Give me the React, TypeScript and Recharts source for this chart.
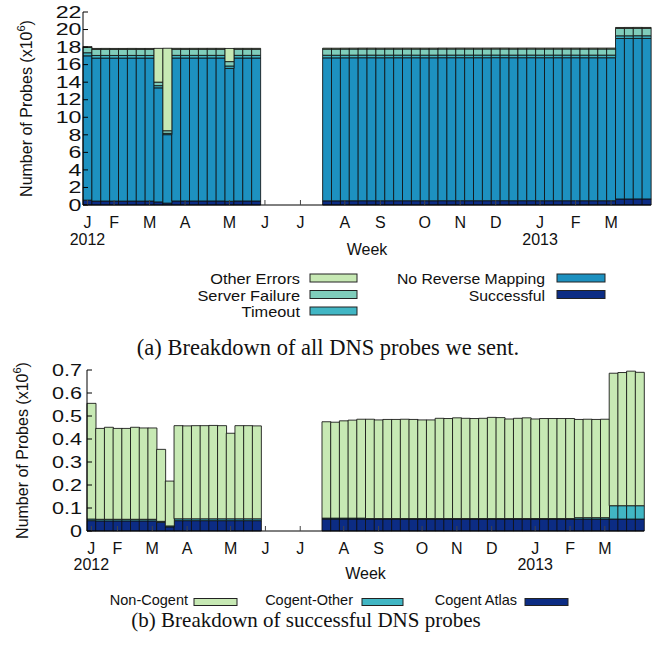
import React from "react";
import { Bar, BarChart, Label, XAxis, YAxis } from "recharts";

// week index 0 = first week of Jan 2012, 63 = last week of Mar 2013
const weeks = Array.from({ length: 64 }, (_, i) => i);

const monthTicks = [0, 3, 7, 11, 16, 20, 24, 29, 33, 38, 42, 46, 51, 55, 59];
const monthLabels = ["J", "F", "M", "A", "M", "J", "J", "A", "S", "O", "N", "D", "J", "F", "M"];
const yearLabels: Record<number, string> = { 0: "2012", 51: "2013" };

const allTicks = [0, 2, 4, 6, 8, 10, 12, 14, 16, 18, 20, 22];
const successTicks = [0, 0.1, 0.2, 0.3, 0.4, 0.5, 0.6, 0.7];

const n = null;

// (a) all probes, x10^6
const successful = [
  0.555, 0.446, 0.451, 0.446, 0.446, 0.451, 0.448, 0.448, 0.355, 0.217,
  0.458, 0.457, 0.458, 0.458, 0.459, 0.458, 0.425, 0.458, 0.458, 0.457,
  n, n, n, n, n, n, n,
  0.475, 0.473, 0.479, 0.482, 0.486, 0.486, 0.483, 0.485, 0.485, 0.486,
  0.485, 0.483, 0.483, 0.49, 0.489, 0.492, 0.49, 0.489, 0.49, 0.494,
  0.493, 0.487, 0.49, 0.492, 0.487, 0.489, 0.489, 0.489, 0.489, 0.485,
  0.486, 0.485, 0.486, 0.686, 0.689, 0.695, 0.69,
];
const noReverse = [
  16.45, 16.3, 16.3, 16.3, 16.3, 16.3, 16.3, 16.3, 13.0, 7.8,
  16.3, 16.3, 16.3, 16.3, 16.3, 16.3, 15.15, 16.3, 16.3, 16.3,
  n, n, n, n, n, n, n,
  16.3, 16.3, 16.3, 16.3, 16.3, 16.3, 16.3, 16.3, 16.3, 16.3,
  16.3, 16.3, 16.3, 16.3, 16.3, 16.3, 16.3, 16.3, 16.3, 16.3,
  16.3, 16.3, 16.3, 16.3, 16.3, 16.3, 16.3, 16.3, 16.3, 16.3,
  16.3, 16.3, 16.3, 18.3, 18.3, 18.3, 18.3,
];
const timeout = [
  0.35, 0.3, 0.3, 0.3, 0.3, 0.3, 0.3, 0.3, 0.25, 0.15,
  0.3, 0.3, 0.3, 0.3, 0.3, 0.3, 0.27, 0.3, 0.3, 0.3,
  n, n, n, n, n, n, n,
  0.3, 0.3, 0.3, 0.3, 0.3, 0.3, 0.3, 0.3, 0.3, 0.3,
  0.3, 0.3, 0.3, 0.3, 0.3, 0.3, 0.3, 0.3, 0.3, 0.3,
  0.3, 0.3, 0.3, 0.3, 0.3, 0.3, 0.3, 0.3, 0.3, 0.3,
  0.3, 0.3, 0.3, 0.3, 0.3, 0.3, 0.3,
];
const serverFailure = [
  0.6, 0.7, 0.7, 0.7, 0.7, 0.7, 0.7, 0.7, 0.4, 0.3,
  0.7, 0.7, 0.7, 0.7, 0.7, 0.7, 0.5, 0.7, 0.7, 0.7,
  n, n, n, n, n, n, n,
  0.7, 0.7, 0.7, 0.7, 0.7, 0.7, 0.7, 0.7, 0.7, 0.7,
  0.7, 0.7, 0.7, 0.7, 0.7, 0.7, 0.7, 0.7, 0.7, 0.7,
  0.7, 0.7, 0.7, 0.7, 0.7, 0.7, 0.7, 0.7, 0.7, 0.7,
  0.7, 0.7, 0.7, 0.85, 0.85, 0.85, 0.85,
];
const otherErrors = [
  0.1, 0.1, 0.1, 0.1, 0.1, 0.1, 0.1, 0.1, 3.85, 9.4,
  0.1, 0.1, 0.1, 0.1, 0.1, 0.1, 1.5, 0.1, 0.1, 0.1,
  n, n, n, n, n, n, n,
  0.1, 0.1, 0.1, 0.1, 0.1, 0.1, 0.1, 0.1, 0.1, 0.1,
  0.1, 0.1, 0.1, 0.1, 0.1, 0.1, 0.1, 0.1, 0.1, 0.1,
  0.1, 0.1, 0.1, 0.1, 0.1, 0.1, 0.1, 0.1, 0.1, 0.1,
  0.1, 0.1, 0.1, 0.1, 0.1, 0.1, 0.1,
];

// (b) successful probes, x10^6
const cogentAtlas = [
  0.045, 0.044, 0.044, 0.044, 0.044, 0.044, 0.044, 0.044, 0.038, 0.018,
  0.045, 0.045, 0.045, 0.045, 0.045, 0.045, 0.045, 0.045, 0.045, 0.045,
  n, n, n, n, n, n, n,
  0.052, 0.052, 0.052, 0.052, 0.052, 0.052, 0.052, 0.052, 0.052, 0.052,
  0.052, 0.052, 0.052, 0.052, 0.052, 0.052, 0.052, 0.052, 0.052, 0.052,
  0.052, 0.052, 0.052, 0.052, 0.052, 0.052, 0.052, 0.052, 0.052, 0.052,
  0.052, 0.052, 0.052, 0.052, 0.052, 0.052, 0.052,
];
const cogentOther = [
  0.007, 0.007, 0.007, 0.007, 0.007, 0.007, 0.007, 0.007, 0.004, 0.004,
  0.008, 0.008, 0.008, 0.008, 0.008, 0.008, 0.008, 0.008, 0.008, 0.008,
  n, n, n, n, n, n, n,
  0.004, 0.004, 0.004, 0.004, 0.004, 0.002, 0.002, 0.002, 0.002, 0.002,
  0.002, 0.002, 0.002, 0.002, 0.002, 0.002, 0.002, 0.002, 0.002, 0.002,
  0.002, 0.002, 0.002, 0.002, 0.002, 0.002, 0.002, 0.002, 0.002, 0.006,
  0.006, 0.006, 0.006, 0.058, 0.058, 0.058, 0.058,
];
const nonCogent = [
  0.503, 0.395, 0.4, 0.395, 0.395, 0.4, 0.397, 0.397, 0.313, 0.195,
  0.405, 0.404, 0.405, 0.405, 0.406, 0.405, 0.372, 0.405, 0.405, 0.404,
  n, n, n, n, n, n, n,
  0.419, 0.417, 0.423, 0.426, 0.43, 0.432, 0.429, 0.431, 0.431, 0.432,
  0.431, 0.429, 0.429, 0.436, 0.435, 0.438, 0.436, 0.435, 0.436, 0.44,
  0.439, 0.433, 0.436, 0.438, 0.433, 0.435, 0.435, 0.435, 0.435, 0.427,
  0.428, 0.427, 0.428, 0.576, 0.579, 0.585, 0.58,
];

const allRows = weeks.map((w, i) => ({
  week: w,
  successful: successful[i],
  noReverse: noReverse[i],
  timeout: timeout[i],
  serverFailure: serverFailure[i],
  otherErrors: otherErrors[i],
}));

const successRows = weeks.map((w, i) => ({
  week: w,
  cogentAtlas: cogentAtlas[i],
  cogentOther: cogentOther[i],
  nonCogent: nonCogent[i],
}));

const C = {
  light: "#c7e9b4",
  teal: "#7fcdbb",
  cyan: "#41b6c4",
  blue: "#1d91c0",
  navy: "#0c2c84",
};

const SANS = "'Liberation Sans', Arial, sans-serif";
const SERIF = "'Liberation Serif', 'Times New Roman', serif";
const INK = "#111";

function makeWeekTick(monthDy: number, yearDy: number) {
  return function WeekTick(props: any) {
    const { x, y, payload } = props;
    const k = monthTicks.indexOf(payload.value);
    const year = yearLabels[payload.value];
    return (
      <g>
        <line x1={x} x2={x} y1={y} y2={y - 5} stroke="#444" />
        <text x={x} y={y + monthDy} textAnchor="middle" fontSize={16} fontFamily={SANS} fill={INK}>
          {monthLabels[k]}
        </text>
        {year && (
          <text x={x} y={y + yearDy} textAnchor="middle" fontSize={16} fontFamily={SANS} fill={INK}>
            {year}
          </text>
        )}
      </g>
    );
  };
}

// the value labels in the original are drawn noticeably wider than the rest of the text
function makeValueTick(gap: number, sx: number, fmt: (v: number) => string) {
  return function ValueTick(props: any) {
    const { x, y, payload } = props;
    return (
      <g>
        <line x1={x} x2={x + 5} y1={y} y2={y} stroke="#000" />
        <text
          transform={`translate(${x - gap},${y + 5.7}) scale(${sx},1)`}
          textAnchor="end"
          fontSize={16}
          fontFamily={SANS}
          fill={INK}
        >
          {fmt(payload.value)}
        </text>
      </g>
    );
  };
}

function yTitle(baseX: number) {
  return function YTitle(props: any) {
    const vb = props.viewBox;
    const cy = vb.y + vb.height / 2;
    return (
      <text
        x={baseX}
        y={cy}
        transform={`rotate(-90 ${baseX} ${cy})`}
        textAnchor="middle"
        fontSize={16}
        fontFamily={SANS}
        fill={INK}
      >
        Number of Probes (x10
        <tspan dy={-7} fontSize={11}>6</tspan>
        <tspan dy={7}>)</tspan>
      </text>
    );
  };
}

function xTitle(dy: number) {
  return function XTitle(props: any) {
    const vb = props.viewBox;
    return (
      <text x={vb.x + vb.width / 2} y={vb.y + dy} textAnchor="middle" fontSize={16} fontFamily={SANS} fill={INK}>
        Week
      </text>
    );
  };
}

const barStroke = { stroke: "#111", strokeWidth: 1, strokeOpacity: 0.85 };

type LegendItem = { name: string; color: string; textRight: number; boxX: number; boxW: number; boxY: number; boxH: number; baseline: number; size: number; sx: number };

const legendA: LegendItem[] = [
  { name: "Other Errors", color: C.light, textRight: 300, boxX: 310, boxW: 47, boxY: 274, boxH: 8, baseline: 284, size: 14.2, sx: 1.15 },
  { name: "Server Failure", color: C.teal, textRight: 300, boxX: 310, boxW: 47, boxY: 290.5, boxH: 8, baseline: 300.5, size: 14.2, sx: 1.15 },
  { name: "Timeout", color: C.cyan, textRight: 300, boxX: 310, boxW: 47, boxY: 307, boxH: 8, baseline: 317, size: 14.2, sx: 1.15 },
  { name: "No Reverse Mapping", color: C.blue, textRight: 545, boxX: 557, boxW: 48, boxY: 274, boxH: 8, baseline: 284, size: 14.2, sx: 1.11 },
  { name: "Successful", color: C.navy, textRight: 545, boxX: 557, boxW: 48, boxY: 290.5, boxH: 8, baseline: 300.5, size: 14.2, sx: 1.11 },
];

const legendB: LegendItem[] = [
  { name: "Non-Cogent", color: C.light, textRight: 188, boxX: 194, boxW: 43, boxY: 598.5, boxH: 7, baseline: 605, size: 14.5, sx: 1 },
  { name: "Cogent-Other", color: C.cyan, textRight: 353, boxX: 362, boxW: 41, boxY: 598.5, boxH: 7, baseline: 605, size: 14.5, sx: 1 },
  { name: "Cogent Atlas", color: C.navy, textRight: 517, boxX: 525, boxW: 43, boxY: 598.5, boxH: 7, baseline: 605, size: 14.5, sx: 1 },
];

function LegendBits({ items }: { items: LegendItem[] }) {
  return (
    <>
      {items.map((it) => (
        <g key={it.name}>
          <text
            transform={`translate(${it.textRight},${it.baseline}) scale(${it.sx},1)`}
            textAnchor="end"
            fontSize={it.size}
            fontFamily={SANS}
            fill={INK}
          >
            {it.name}
          </text>
          <rect x={it.boxX} y={it.boxY} width={it.boxW} height={it.boxH} fill={it.color} stroke="#222" strokeWidth={1} />
        </g>
      ))}
    </>
  );
}

export default function App() {
  return (
    <div style={{ position: "absolute", left: 0, top: 0, width: 653, height: 652, background: "#fff", fontFamily: SANS }}>
      <div style={{ position: "absolute", left: 0, top: 0 }}>
        <BarChart
          width={653}
          height={262}
          data={allRows}
          barCategoryGap={0}
          barGap={0}
          margin={{ top: 12, right: 2, bottom: 7, left: 0 }}
        >
          <XAxis
            dataKey="week"
            type="category"
            ticks={monthTicks}
            interval={0}
            height={50}
            tickSize={0}
            tickMargin={0}
            tickLine={false}
            axisLine={{ stroke: "#000" }}
            tick={makeWeekTick(23, 40)}
          >
            <Label content={xTitle(50)} />
          </XAxis>
          <YAxis
            type="number"
            domain={[0, 22]}
            ticks={allTicks}
            interval={0}
            width={83}
            tickSize={0}
            tickMargin={0}
            tickLine={false}
            axisLine={{ stroke: "#000" }}
            tick={makeValueTick(1.5, 1.45, (v) => String(v))}
          >
            <Label content={yTitle(32)} />
          </YAxis>
          <Bar dataKey="successful" stackId="a" fill={C.navy} {...barStroke} isAnimationActive={false} />
          <Bar dataKey="noReverse" stackId="a" fill={C.blue} {...barStroke} isAnimationActive={false} />
          <Bar dataKey="timeout" stackId="a" fill={C.cyan} {...barStroke} isAnimationActive={false} />
          <Bar dataKey="serverFailure" stackId="a" fill={C.teal} {...barStroke} isAnimationActive={false} />
          <Bar dataKey="otherErrors" stackId="a" fill={C.light} {...barStroke} isAnimationActive={false} />
        </BarChart>
      </div>

      <div style={{ position: "absolute", left: 0, top: 355 }}>
        <BarChart
          width={653}
          height={230}
          data={successRows}
          barCategoryGap={0}
          barGap={0}
          margin={{ top: 15, right: 9, bottom: 4, left: 0 }}
        >
          <XAxis
            dataKey="week"
            type="category"
            ticks={monthTicks}
            interval={0}
            height={50}
            tickSize={0}
            tickMargin={0}
            tickLine={false}
            axisLine={{ stroke: "#000" }}
            tick={makeWeekTick(22.5, 39)}
          >
            <Label content={xTitle(48)} />
          </XAxis>
          <YAxis
            type="number"
            domain={[0, 0.7]}
            ticks={successTicks}
            interval={0}
            width={87}
            tickSize={0}
            tickMargin={0}
            tickLine={false}
            axisLine={{ stroke: "#000" }}
            tick={makeValueTick(5, 1.35, (v) => (v === 0 ? "0" : v.toFixed(1)))}
          >
            <Label content={yTitle(28)} />
          </YAxis>
          <Bar dataKey="cogentAtlas" stackId="b" fill={C.navy} {...barStroke} isAnimationActive={false} />
          <Bar dataKey="cogentOther" stackId="b" fill={C.cyan} {...barStroke} isAnimationActive={false} />
          <Bar dataKey="nonCogent" stackId="b" fill={C.light} {...barStroke} isAnimationActive={false} />
        </BarChart>
      </div>

      <svg width={653} height={652} style={{ position: "absolute", left: 0, top: 0, pointerEvents: "none" }}>
        <LegendBits items={legendA} />
        <text x={328} y={354.5} textAnchor="middle" fontSize={22.5} fontFamily={SERIF} fill={INK}>
          (a) Breakdown of all DNS probes we sent.
        </text>
        <LegendBits items={legendB} />
        <text x={306} y={627} textAnchor="middle" fontSize={21} fontFamily={SERIF} fill={INK}>
          (b) Breakdown of successful DNS probes
        </text>
      </svg>
    </div>
  );
}
